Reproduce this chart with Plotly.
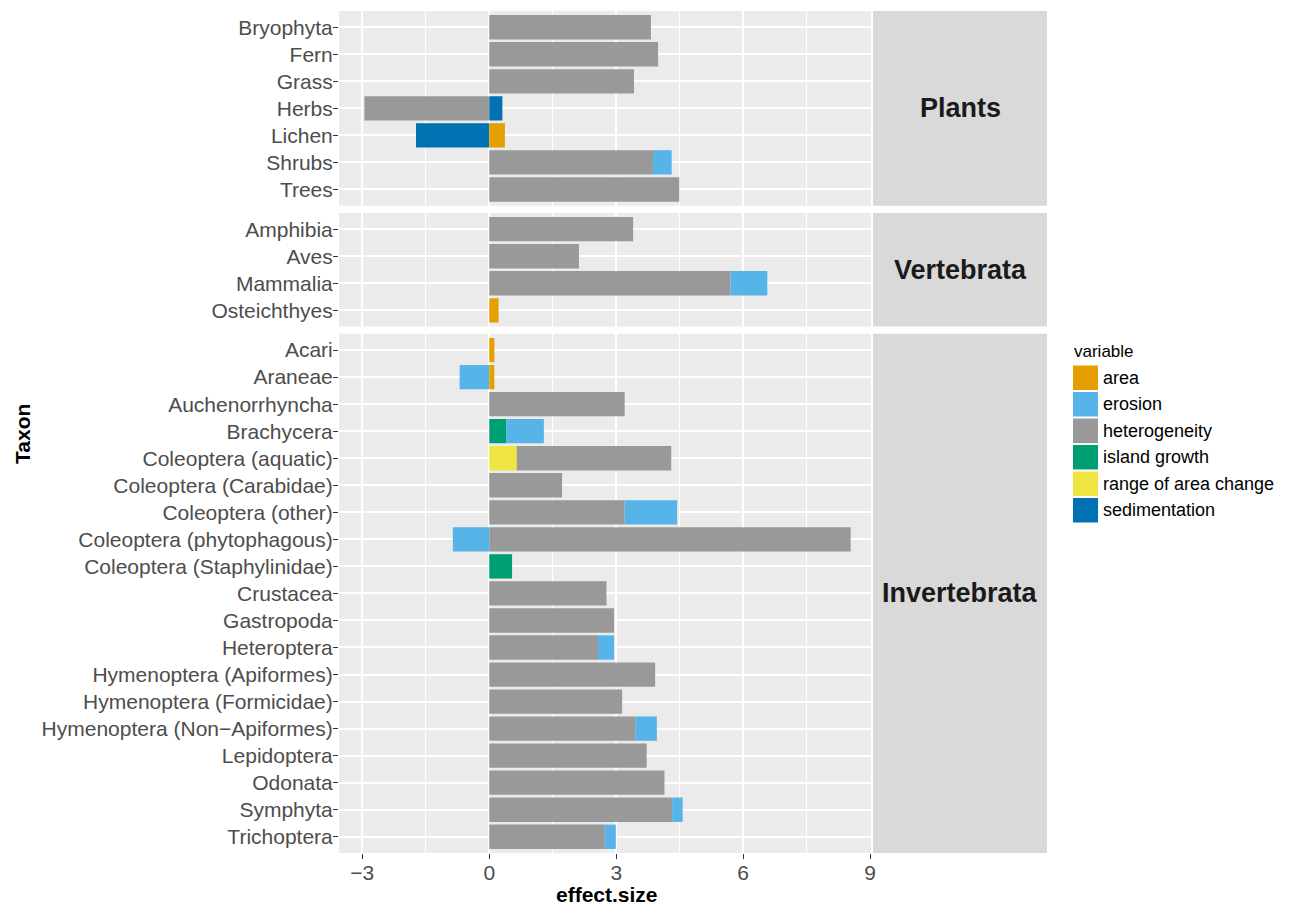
import plotly.graph_objects as go

# ---------------- data ----------------
groups = ["Plants", "Vertebrata", "Invertebrata"]
taxa = {
    "Plants": ["Bryophyta", "Fern", "Grass", "Herbs", "Lichen", "Shrubs", "Trees"],
    "Vertebrata": ["Amphibia", "Aves", "Mammalia", "Osteichthyes"],
    "Invertebrata": ["Acari", "Araneae", "Auchenorrhyncha", "Brachycera",
                     "Coleoptera (aquatic)", "Coleoptera (Carabidae)", "Coleoptera (other)",
                     "Coleoptera (phytophagous)", "Coleoptera (Staphylinidae)", "Crustacea",
                     "Gastropoda", "Heteroptera", "Hymenoptera (Apiformes)",
                     "Hymenoptera (Formicidae)", "Hymenoptera (Non\u2212Apiformes)",
                     "Lepidoptera", "Odonata", "Symphyta", "Trichoptera"],
}

variables = ["area", "erosion", "heterogeneity", "island growth",
             "range of area change", "sedimentation"]
colors = ["#E69F00", "#56B4E9", "#999999", "#009E73", "#F0E442", "#0072B2"]

# values per group, aligned with taxa lists (None = no bar)
area = {
    "Plants": [None, None, None, None, 0.37, None, None],
    "Vertebrata": [None, None, None, 0.22],
    "Invertebrata": [0.12, 0.12] + [None] * 17,
}
erosion = {
    "Plants": [None, None, None, None, None, 0.44, None],
    "Vertebrata": [None, None, 0.87, None],
    "Invertebrata": [None, -0.70, None, 0.89, None, None, 1.24, -0.86, None, None,
                     None, 0.38, None, None, 0.51, None, None, 0.25, 0.26],
}
heterogeneity = {
    "Plants": [3.82, 3.99, 3.42, -2.95, None, 3.87, 4.49],
    "Vertebrata": [3.40, 2.12, 5.70, None],
    "Invertebrata": [None, None, 3.20, None, 3.65, 1.72, 3.20, 8.54, None, 2.77,
                     2.95, 2.57, 3.92, 3.14, 3.45, 3.72, 4.14, 4.32, 2.73],
}
island_growth = {
    "Plants": [None] * 7,
    "Vertebrata": [None] * 4,
    "Invertebrata": [None, None, None, 0.40, None, None, None, None, 0.54, None,
                     None, None, None, None, None, None, None, None, None],
}
range_area_change = {
    "Plants": [None] * 7,
    "Vertebrata": [None] * 4,
    "Invertebrata": [None, None, None, None, 0.65] + [None] * 14,
}
sedimentation = {
    "Plants": [None, None, None, 0.31, -1.73, None, None],
    "Vertebrata": [None] * 4,
    "Invertebrata": [None] * 19,
}
series = dict(zip(variables, [area, erosion, heterogeneity, island_growth,
                              range_area_change, sedimentation]))

x_ticks = [-3, 0, 3, 6, 9]

# ---------------- layout geometry ----------------
W, H = 1290, 907
ml, mr, mt, mb = 339, 419, 11, 54
pw, ph = W - ml - mr, H - mt - mb
gap_px = 7.3
rows = [len(taxa[g]) + 0.2 for g in groups]
unit = (ph - gap_px * (len(groups) - 1)) / sum(rows)

domains = []
top = 1.0
for r in rows:
    h = r * unit / ph
    domains.append([top - h, top])
    top = top - h - gap_px / ph

FONT = "Liberation Sans, Arial, sans-serif"
fig = go.Figure()

# stacking order: first trace is nearest zero (ggplot stacks last level nearest zero)
stack_order = ["sedimentation", "range of area change", "island growth",
               "heterogeneity", "erosion", "area"]
col_of = dict(zip(variables, colors))

for gi, g in enumerate(groups):
    ax = "" if gi == 0 else str(gi + 1)
    for v in stack_order:
        fig.add_trace(go.Bar(
            x=series[v][g], y=taxa[g], orientation="h", name=v,
            marker=dict(color=col_of[v], line=dict(width=0)),
            width=0.9, showlegend=False,
            xaxis="x" + ax, yaxis="y" + ax,
            hovertemplate="%{y}: %{x}<extra>" + v + "</extra>",
        ))

layout = dict(
    width=W, height=H,
    margin=dict(l=ml, r=mr, t=mt, b=mb, pad=0),
    paper_bgcolor="white", plot_bgcolor="rgba(0,0,0,0)",
    barmode="relative", bargap=0.1,
    font=dict(family=FONT, color="#4D4D4D"),
    shapes=[], annotations=[],
)

for gi, g in enumerate(groups):
    ax = "" if gi == 0 else str(gi + 1)
    last = gi == len(groups) - 1
    n = len(taxa[g])
    layout["xaxis" + ax] = dict(
        domain=[0, 1], anchor="y" + ax, range=[-3.55, 9.02],
        tickmode="array", tickvals=x_ticks,
        ticktext=[str(t).replace("-", "\u2212") for t in x_ticks],
        showticklabels=last, ticks="outside" if last else "",
        ticklen=5, tickwidth=1.4, tickcolor="#333333",
        ticklabelstandoff=-4,
        tickfont=dict(size=21, color="#4D4D4D", family=FONT),
        showgrid=True, gridcolor="white", gridwidth=1.8,
        zeroline=False, showline=False,
        minor=dict(tick0=0, dtick=1.5, showgrid=True, gridcolor="white",
                   gridwidth=0.9, ticks=""),
        fixedrange=True,
    )
    if gi > 0:
        layout["xaxis" + ax]["matches"] = "x"
    layout["yaxis" + ax] = dict(
        domain=domains[gi], anchor="x" + ax,
        type="category", categoryorder="array", categoryarray=taxa[g],
        range=[n - 1 + 0.6, -0.6],
        ticks="outside", ticklen=5, tickwidth=1.4, tickcolor="#333333",
        ticklabelstandoff=-4,
        tickfont=dict(size=21, color="#4D4D4D", family=FONT),
        showgrid=True, gridcolor="white", gridwidth=1.8,
        zeroline=False, showline=False, fixedrange=True,
    )
    # panel background
    layout["shapes"].append(dict(
        type="rect", xref="x" + ax + " domain", yref="y" + ax + " domain",
        x0=0, x1=1, y0=0, y1=1, fillcolor="#EBEBEB", line=dict(width=0),
        layer="below",
    ))
    # facet strip on the right
    sx0 = (873 - ml) / pw
    sx1 = (1047 - ml) / pw
    layout["shapes"].append(dict(
        type="rect", xref="paper", yref="y" + ax + " domain",
        x0=sx0, x1=sx1, y0=0, y1=1, fillcolor="#D9D9D9", line=dict(width=0),
        layer="below",
    ))
    layout["annotations"].append(dict(
        text="<b>" + g + "</b>", xref="paper", yref="y" + ax + " domain",
        x=(sx0 + sx1) / 2, y=0.5, xanchor="center", yanchor="middle",
        showarrow=False, font=dict(size=27, color="#1A1A1A", family=FONT),
    ))

# axis titles
layout["annotations"].append(dict(
    text="<b>effect.size</b>", xref="paper", yref="paper",
    x=(607 - ml) / pw, y=(H - mb - 894) / ph, xanchor="center", yanchor="middle",
    showarrow=False, font=dict(size=21, color="black", family=FONT),
))
layout["annotations"].append(dict(
    text="<b>Taxon</b>", xref="paper", yref="paper",
    x=(22 - ml) / pw, y=(H - mb - 434) / ph, xanchor="center", yanchor="middle",
    textangle=-90, showarrow=False, font=dict(size=21, color="black", family=FONT),
))

# legend (ggplot-style keys)
def py(p):
    return (H - mb - p) / ph

layout["annotations"].append(dict(
    text="variable", xref="paper", yref="paper", x=(1072 - ml) / pw, y=py(351),
    xanchor="left", yanchor="middle", showarrow=False,
    font=dict(size=17, color="black", family=FONT),
))
key_top, key_step, key_h = 365.5, 26.5, 24.5
for i, (v, c) in enumerate(zip(variables, colors)):
    t = key_top + i * key_step
    layout["shapes"].append(dict(
        type="rect", xref="paper", yref="paper",
        x0=(1073 - ml) / pw, x1=(1098 - ml) / pw, y0=py(t + key_h), y1=py(t),
        fillcolor=c, line=dict(width=0),
    ))
    layout["annotations"].append(dict(
        text=v, xref="paper", yref="paper", x=(1101 - ml) / pw, y=py(t + key_h / 2),
        xanchor="left", yanchor="middle", showarrow=False,
        font=dict(size=18, color="black", family=FONT),
    ))

fig.update_layout(**layout)
fig.write_html("out.html")
